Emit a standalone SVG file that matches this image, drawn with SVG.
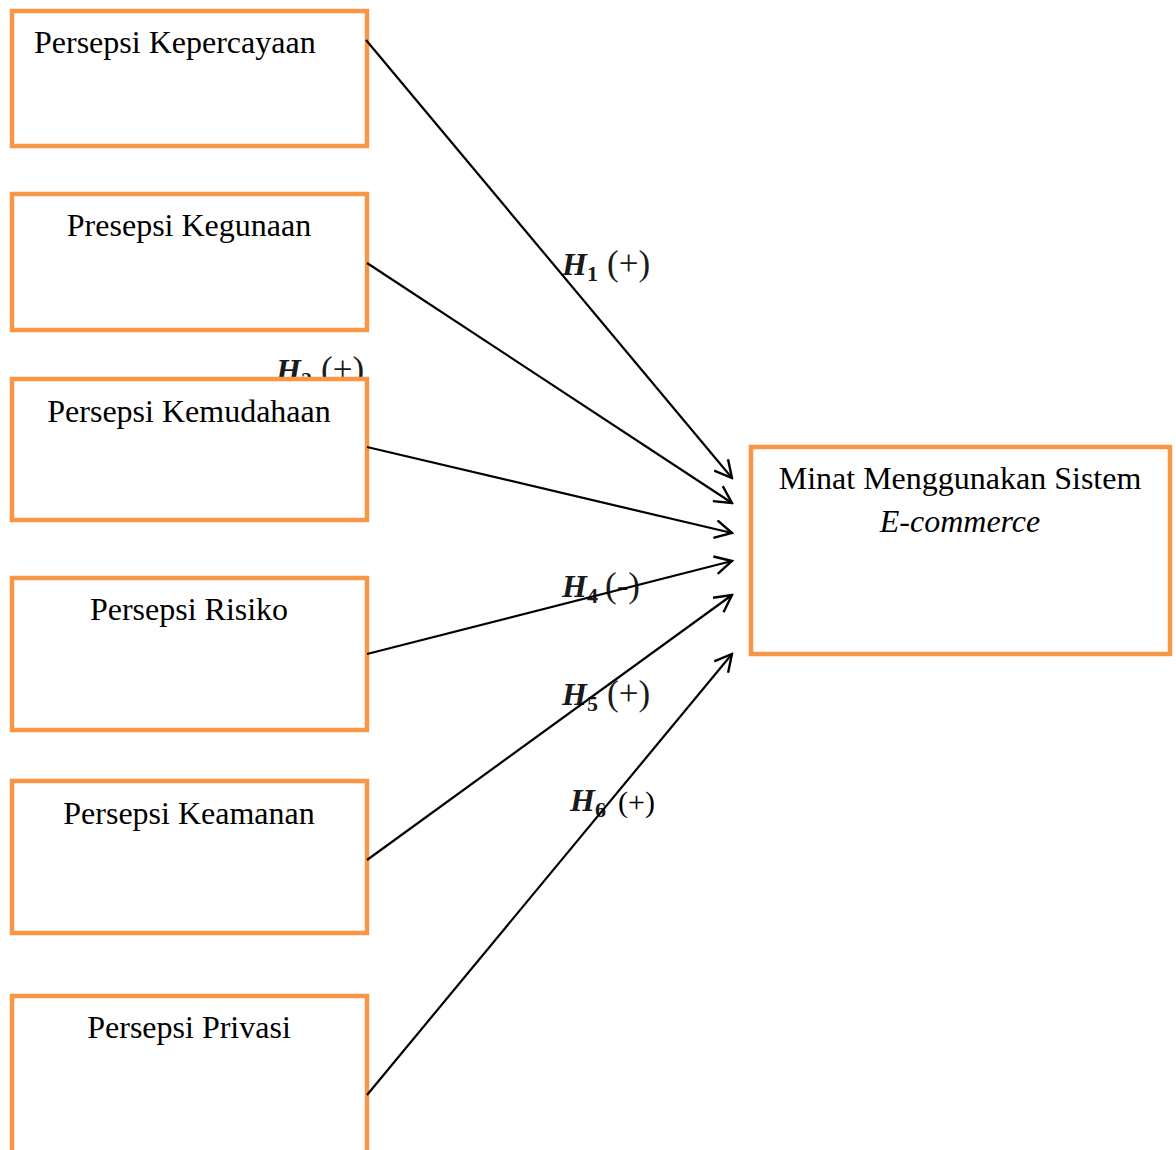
<svg xmlns="http://www.w3.org/2000/svg" width="1176" height="1150" viewBox="0 0 1176 1150">
<style>
.box{fill:#fff;stroke:#F79646;stroke-width:4.5}
.t{font-family:"Liberation Serif","Times New Roman",serif;font-size:32px;fill:#000}
.c{text-anchor:middle}
.lab{font-family:"Liberation Serif","DejaVu Serif",serif;font-size:32px;fill:#1a1a1a}
.hi{font-style:italic;font-weight:bold}
.sub{font-size:22px;font-weight:bold}
.pm{font-size:35px}
.e{fill:none;stroke:#000;stroke-width:2.2}
</style>
<defs>
<marker id="arr" viewBox="0 0 20 20" refX="18" refY="10" markerWidth="20" markerHeight="20" markerUnits="userSpaceOnUse" orient="auto">
<path d="M1,1 L18,10 L1,19" fill="none" stroke="#000" stroke-width="2.4"/>
</marker>
</defs>
<rect width="1176" height="1150" fill="#fff"/>
<g id="labels">
<text class="lab" x="562" y="275"><tspan class="hi">H</tspan><tspan class="sub" dy="6">1</tspan><tspan class="pm" dy="-6" x="607">(+)</tspan></text>
<text class="lab" x="276" y="381"><tspan class="hi">H</tspan><tspan class="sub" dy="6">2</tspan><tspan class="pm" dy="-6" x="321">(+)</tspan></text>
<text class="lab" x="562" y="597"><tspan class="hi">H</tspan><tspan class="sub" dy="6">4</tspan><tspan class="pm" dy="-6" x="605">(-)</tspan></text>
<text class="lab" x="562" y="705"><tspan class="hi">H</tspan><tspan class="sub" dy="6">5</tspan><tspan class="pm" dy="-6" x="607">(+)</tspan></text>
<text class="lab" x="570" y="811"><tspan class="hi">H</tspan><tspan class="sub" dy="6">6</tspan></text>
<text class="t" x="618" y="812" style="font-size:30px">(+)</text>
</g>
<g id="node-kepercayaan">
<rect class="box" x="12" y="11" width="355" height="135"/>
<text class="t" x="34" y="53">Persepsi Kepercayaan</text>
</g>
<g id="node-kegunaan">
<rect class="box" x="12" y="194" width="355" height="136"/>
<text class="t c" x="189" y="236">Presepsi Kegunaan</text>
</g>
<g id="node-kemudahaan">
<rect class="box" x="12" y="379" width="355" height="141"/>
<text class="t c" x="189" y="422">Persepsi Kemudahaan</text>
</g>
<g id="node-risiko">
<rect class="box" x="12" y="578" width="355" height="152"/>
<text class="t c" x="189" y="620">Persepsi Risiko</text>
</g>
<g id="node-keamanan">
<rect class="box" x="12" y="781" width="355" height="152"/>
<text class="t c" x="189" y="824">Persepsi Keamanan</text>
</g>
<g id="node-privasi">
<rect class="box" x="12" y="996" width="355" height="170"/>
<text class="t c" x="189" y="1038">Persepsi Privasi</text>
</g>
<g id="node-minat">
<rect class="box" x="751" y="447" width="419" height="207"/>
<text class="t c" x="960" y="489">Minat Menggunakan Sistem</text>
<text class="t c" x="960" y="532" font-style="italic">E-commerce</text>
</g>
<g id="connectors">
<line class="e" x1="366" y1="40" x2="732" y2="478" marker-end="url(#arr)"/>
<line class="e" x1="367" y1="263" x2="732" y2="503" marker-end="url(#arr)"/>
<line class="e" x1="367" y1="447" x2="732" y2="533" marker-end="url(#arr)"/>
<line class="e" x1="367" y1="654" x2="732" y2="561" marker-end="url(#arr)"/>
<line class="e" x1="367" y1="860" x2="732" y2="595" marker-end="url(#arr)"/>
<line class="e" x1="367" y1="1095" x2="732" y2="654" marker-end="url(#arr)"/>
</g>
</svg>
